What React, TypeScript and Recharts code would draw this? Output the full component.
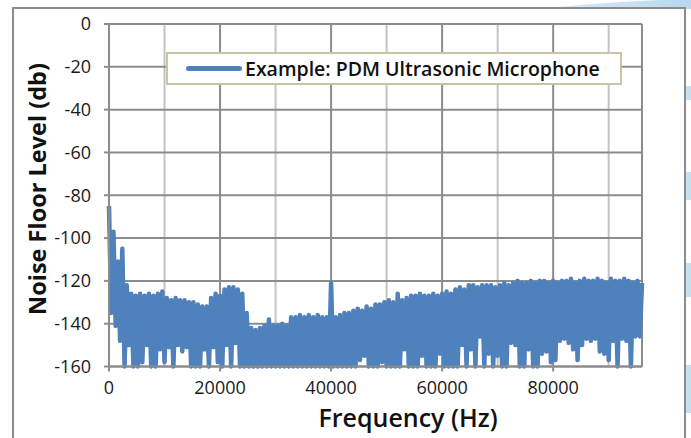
import React from 'react';
import { LineChart, Line, XAxis, YAxis, CartesianGrid, Legend } from 'recharts';

// FFT bin spacing (Hz) of the spectrum samples
const binStep = 400;

// Spectrum peaks (even bins) and troughs (odd bins), in dB
const upperPeaks = [
  -85, -97, -111, -105, -122, -126, -127, -126, -127, -126,
  -127, -126, -125, -128, -129, -128, -129, -129, -130, -130,
  -131, -132, -132, -128, -126, -127, -124, -123, -123, -124,
  -126, -135, -142, -143, -142, -141, -138, -141, -141, -140,
  -141, -137, -137, -136, -137, -136, -137, -136, -137, -137,
  -121, -137, -136, -135, -135, -134, -133, -134, -132, -133,
  -131, -131, -130, -129, -130, -126, -129, -128, -127, -127,
  -126, -127, -127, -126, -127, -126, -125, -126, -124, -123,
  -124, -122, -122, -123, -122, -122, -122, -123, -122, -121,
  -122, -121, -120, -121, -121, -120, -121, -120, -120, -121,
  -120, -121, -120, -120, -119, -121, -120, -119, -120, -120,
  -119, -120, -121, -119, -120, -120, -119, -120, -121, -120,
];

const lowerTroughs = [
  -135, -141, -148, -160, -150, -160, -160, -158, -150, -160,
  -160, -152, -158, -151, -160, -150, -153, -151, -160, -160,
  -160, -152, -160, -151, -158, -160, -150, -160, -149, -160,
  -160, -160, -160, -160, -160, -160, -160, -160, -160, -160,
  -160, -160, -160, -160, -160, -160, -160, -160, -160, -160,
  -160, -160, -160, -160, -160, -160, -157, -155, -160, -160,
  -160, -158, -160, -160, -160, -160, -152, -160, -160, -160,
  -155, -160, -160, -160, -154, -160, -160, -160, -160, -150,
  -160, -152, -160, -146, -160, -154, -160, -155, -160, -160,
  -149, -150, -160, -160, -152, -160, -160, -154, -153, -158,
  -157, -148, -147, -149, -152, -157, -150, -147, -148, -147,
  -153, -154, -157, -148, -160, -147, -148, -160, -146, -146,
];

const lastFreq = 96000;
const lastLevel = -121;

const majorXTicks = [0, 20000, 40000, 60000, 80000];
const minorXTicks = [10000, 30000, 50000, 70000, 90000];
const yTicks = [0, -20, -40, -60, -80, -100, -120, -140, -160];

const seriesName = 'Example: PDM Ultrasonic Microphone';
const xTitle = 'Frequency (Hz)';
const yTitle = 'Noise Floor Level (db)';

const data: { freq: number; level: number }[] = [];
upperPeaks.forEach((v, i) => {
  data.push({ freq: 2 * i * binStep, level: v });
  data.push({ freq: (2 * i + 1) * binStep, level: lowerTroughs[i] });
});
data.push({ freq: lastFreq, level: lastLevel });

const BLUE = '#4f81bd';
const GRID_DARK = '#8c8c8c';
const GRID_LIGHT = '#c4c4c4';
const FONT = '"Open Sans", sans-serif';

const LegendContent = () => (
  <div
    style={{
      width: '100%',
      height: '100%',
      boxSizing: 'border-box',
      border: '2px solid #cbc4a4',
      background: '#ffffff',
      display: 'flex',
      alignItems: 'center',
      fontFamily: FONT,
    }}
  >
    <span
      style={{
        display: 'inline-block',
        width: 56,
        height: 5,
        borderRadius: 3,
        background: BLUE,
        marginLeft: 18,
        flexShrink: 0,
      }}
    />
    <span style={{ marginLeft: 3, fontSize: 19.5, fontWeight: 600, color: '#111', whiteSpace: 'nowrap' }}>
      {seriesName}
    </span>
  </div>
);

export default function App() {
  return (
    <div
      style={{
        position: 'absolute',
        left: 0,
        top: 0,
        width: 691,
        height: 438,
        background: '#ffffff',
        overflow: 'hidden',
      }}
    >
      <svg width={691} height={438} style={{ position: 'absolute', left: 0, top: 0 }}>
        <defs>
          <linearGradient id="swoosh" x1="0" y1="0" x2="1" y2="0">
            <stop offset="0" stopColor="#dcebf6" />
            <stop offset="1" stopColor="#b9d8ee" />
          </linearGradient>
        </defs>
        <path d="M 540 9 Q 610 1 691 -1 L 691 9 Z" fill="url(#swoosh)" />
        <rect x={686} y={86} width={6} height={14} fill="#c6e0f2" />
        <rect x={686} y={172} width={6} height={28} fill="#c6e0f2" />
        <rect x={686} y={263} width={6} height={34} fill="#c6e0f2" />
        <rect x={686} y={365} width={6} height={48} fill="#c6e0f2" />
        <rect x={13} y={8} width={672} height={460} fill="#ffffff" stroke="#8c8c8c" strokeWidth={2} />
      </svg>
      <LineChart
        width={691}
        height={438}
        data={data}
        margin={{ top: 24, right: 49, bottom: 41.5, left: 0 }}
        style={{ position: 'absolute', left: 0, top: 0 }}
      >
        <CartesianGrid xAxisId="minor" horizontal={false} stroke={GRID_LIGHT} strokeWidth={2} />
        <CartesianGrid xAxisId="major" stroke={GRID_DARK} strokeWidth={2} />
        <XAxis
          xAxisId="minor"
          type="number"
          dataKey="freq"
          domain={[0, lastFreq]}
          ticks={minorXTicks}
          hide
        />
        <XAxis
          xAxisId="major"
          type="number"
          dataKey="freq"
          domain={[0, lastFreq]}
          ticks={majorXTicks}
          interval={0}
          height={30}
          tickSize={5}
          tickMargin={10}
          axisLine={{ stroke: GRID_DARK, strokeWidth: 2 }}
          tickLine={{ stroke: GRID_DARK, strokeWidth: 2 }}
          tick={{ fill: '#1a1a1a', fontSize: 18, fontFamily: FONT }}
        />
        <YAxis
          type="number"
          domain={[-160, 0]}
          ticks={yTicks}
          interval={0}
          width={109}
          tickSize={5}
          tickMargin={13}
          axisLine={{ stroke: GRID_DARK, strokeWidth: 2 }}
          tickLine={{ stroke: GRID_DARK, strokeWidth: 2 }}
          tick={{ fill: '#1a1a1a', fontSize: 18, fontFamily: FONT }}
        />
        <Legend
          verticalAlign="middle"
          align="center"
          layout="horizontal"
          content={LegendContent}
          wrapperStyle={{ top: 52, left: 166, width: 456, height: 33 }}
        />
        <Line
          xAxisId="major"
          type="linear"
          dataKey="level"
          name={seriesName}
          stroke={BLUE}
          strokeWidth={4.5}
          strokeLinejoin="round"
          dot={false}
          activeDot={false}
          isAnimationActive={false}
        />
      </LineChart>
      <svg width={691} height={438} style={{ position: 'absolute', left: 0, top: 0, pointerEvents: 'none' }}>
        <text
          x={37}
          y={189}
          transform="rotate(-90 37 189)"
          textAnchor="middle"
          dominantBaseline="central"
          fontFamily={FONT}
          fontSize={23.5}
          fontWeight={700}
          fill="#111"
        >
          {yTitle}
        </text>
        <text
          x={408}
          y={417}
          textAnchor="middle"
          dominantBaseline="central"
          fontFamily={FONT}
          fontSize={25}
          fontWeight={600}
          fill="#111"
        >
          {xTitle}
        </text>
      </svg>
    </div>
  );
}
